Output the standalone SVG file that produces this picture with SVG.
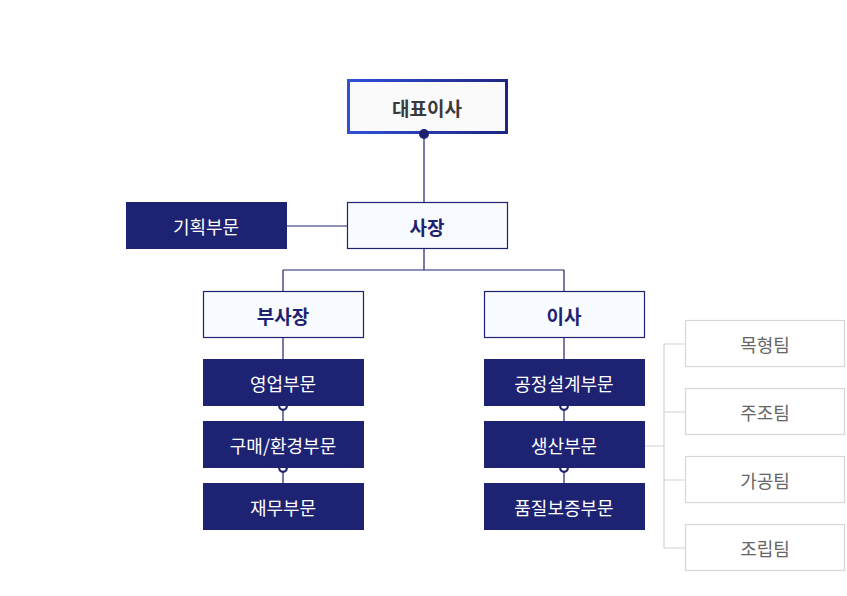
<svg xmlns="http://www.w3.org/2000/svg" width="847" height="596" viewBox="0 0 847 596">
<style>
.t{font-family:"Noto Sans CJK KR","Noto Sans",sans-serif;text-anchor:middle;dominant-baseline:central}
.head{fill:#f8fbff;stroke:#1e2270;stroke-width:1.2}
.headt{font-size:19px;font-weight:bold;fill:#1e2270}
.dept{fill:#1e2272}
.deptt{font-size:18px;fill:#ffffff}
.team{fill:#ffffff;stroke:#d6d6d6;stroke-width:1.2}
.teamt{font-size:18px;fill:#666666}
.ln{stroke:#1e2270;stroke-width:1.2;fill:none}
.gl{stroke:#d2d2d2;stroke-width:1.2;fill:none}
.od{fill:#ffffff;stroke:#1e2270;stroke-width:2.2}
</style>
<defs>
<linearGradient id="g" x1="0" y1="0" x2="1" y2="0">
<stop offset="0" stop-color="#3050d8"/>
<stop offset="1" stop-color="#1e2580"/>
</linearGradient>
</defs>
<rect width="847" height="596" fill="#ffffff"/>
<g id="connectors">
<path class="ln" d="M424 134V202M287 226H347M424 249V270M283 270H564M283 270V291M564 270V291M283 338V359M283 406V421M283 468V483M564 338V359M564 406V421M564 468V483"/>
<path class="gl" d="M644 446H664M664 344V548M664 344H685M664 412H685M664 480H685M664 548H685"/>
<circle cx="283" cy="406" r="3.8" class="od"/>
<circle cx="283" cy="468" r="3.8" class="od"/>
<circle cx="564" cy="406" r="3.8" class="od"/>
<circle cx="564" cy="468" r="3.8" class="od"/>
</g>
<g id="ceo">
<rect x="348.5" y="80.5" width="158" height="52" fill="#fafafa" stroke="url(#g)" stroke-width="3"/>
<text class="t" x="427" y="107" font-size="19" font-weight="bold" fill="#3a3a3a">대표이사</text>
<circle cx="424" cy="134" r="5" fill="#1e2270"/>
</g>
<g id="president"><rect class="head" x="347.5" y="202.5" width="160" height="46"/><text class="t headt" x="427" y="226">사장</text></g>
<g id="planning"><rect class="dept" x="126" y="202" width="161" height="47"/><text class="t deptt" x="206" y="226">기획부문</text></g>
<g id="vp"><rect class="head" x="203.5" y="291.5" width="160" height="46"/><text class="t headt" x="283" y="315">부사장</text></g>
<g id="director"><rect class="head" x="484.5" y="291.5" width="160" height="46"/><text class="t headt" x="564" y="315">이사</text></g>
<g id="sales"><rect class="dept" x="203" y="359" width="161" height="47"/><text class="t deptt" x="283" y="383">영업부문</text></g>
<g id="purchase"><rect class="dept" x="203" y="421" width="161" height="47"/><text class="t deptt" x="283" y="445">구매/환경부문</text></g>
<g id="finance"><rect class="dept" x="203" y="483" width="161" height="47"/><text class="t deptt" x="283" y="507">재무부문</text></g>
<g id="design"><rect class="dept" x="484" y="359" width="161" height="47"/><text class="t deptt" x="564" y="383">공정설계부문</text></g>
<g id="production"><rect class="dept" x="484" y="421" width="161" height="47"/><text class="t deptt" x="564" y="445">생산부문</text></g>
<g id="quality"><rect class="dept" x="484" y="483" width="161" height="47"/><text class="t deptt" x="564" y="507">품질보증부문</text></g>
<g id="team1"><rect class="team" x="685.5" y="320.5" width="159" height="46"/><text class="t teamt" x="765" y="344">목형팀</text></g>
<g id="team2"><rect class="team" x="685.5" y="388.5" width="159" height="46"/><text class="t teamt" x="765" y="412">주조팀</text></g>
<g id="team3"><rect class="team" x="685.5" y="456.5" width="159" height="46"/><text class="t teamt" x="765" y="480">가공팀</text></g>
<g id="team4"><rect class="team" x="685.5" y="524.5" width="159" height="46"/><text class="t teamt" x="765" y="548">조립팀</text></g>
</svg>
